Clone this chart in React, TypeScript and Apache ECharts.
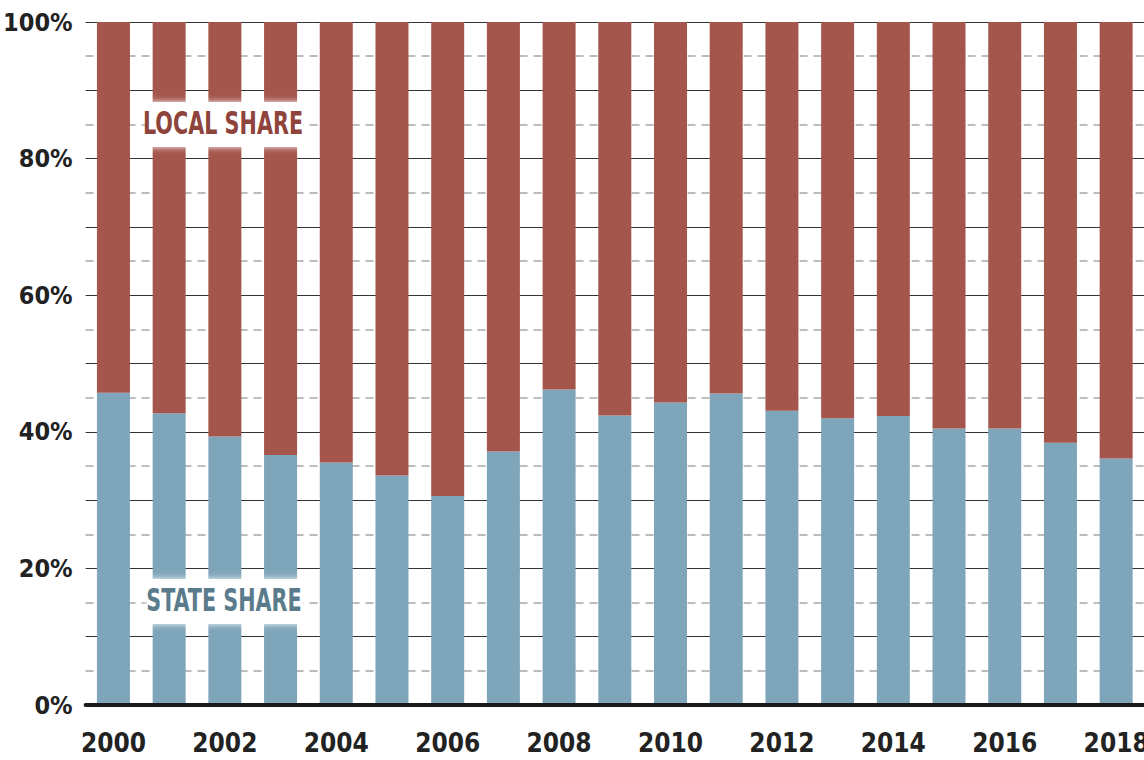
import React, { useEffect, useRef } from "react";
import * as echarts from "echarts";

const years = ["2000","2001","2002","2003","2004","2005","2006","2007","2008","2009","2010","2011","2012","2013","2014","2015","2016","2017","2018"];
const stateShare = [45.7, 42.7, 39.3, 36.6, 35.5, 33.6, 30.6, 37.1, 46.2, 42.4, 44.3, 45.6, 43.1, 42.0, 42.3, 40.5, 40.5, 38.4, 36.1];
const localShare = stateShare.map((v) => +(100 - v).toFixed(1));
const yTicks = [0, 20, 40, 60, 80, 100];

const FONT = "'DejaVu Sans Condensed', sans-serif";

export default function App() {
  const ref = useRef<HTMLDivElement>(null);
  useEffect(() => {
    document.body.style.margin = "0";
    const chart = echarts.init(ref.current!, null, { renderer: "svg" });
    chart.setOption({
      animation: false,
      backgroundColor: "#ffffff",
      grid: { left: 85.6, right: 0, top: 22, bottom: 55, containLabel: false, outerBoundsMode: "none" },
      xAxis: {
        type: "category",
        data: years,
        axisTick: { show: false },
        axisLine: { show: true, lineStyle: { color: "#1a1a1a", width: 4 } },
        axisLabel: {
          interval: 1,
          margin: 25,
          fontFamily: FONT,
          fontWeight: "bold",
          fontSize: 26,
          color: "#222222",
        },
        z: 5,
      },
      yAxis: {
        type: "value",
        min: 0,
        max: 100,
        interval: 10,
        axisLine: { show: false },
        axisTick: { show: false },
        axisLabel: {
          margin: 13,
          fontFamily: FONT,
          fontWeight: "bold",
          fontSize: 25,
          color: "#222222",
          formatter: (v: number) => (yTicks.indexOf(v) >= 0 ? v + "%" : ""),
        },
        splitLine: { show: true, lineStyle: { color: "#333333", width: 1.2, type: "solid" } },
        minorTick: { show: false, splitNumber: 2 },
        minorSplitLine: { show: true, lineStyle: { color: "#a8a8a8", width: 1.5, type: [8, 6] } },
      },
      series: [
        {
          name: "State share",
          type: "bar",
          stack: "total",
          barWidth: 33,
          data: stateShare,
          itemStyle: { color: "#7fa5ba" },
          z: 3,
        },
        {
          name: "Local share",
          type: "bar",
          stack: "total",
          barWidth: 33,
          data: localShare,
          itemStyle: { color: "#a5564c" },
          z: 3,
        },
      ],
      graphic: [
        {
          type: "rect",
          shape: { x: 147, y: 102, width: 156, height: 45 },
          style: { fill: "#ffffff", shadowBlur: 6, shadowColor: "#ffffff" },
          z: 100,
        },
        {
          type: "text",
          x: 223,
          y: 123,
          scaleX: 0.72,
          style: {
            text: "LOCAL SHARE",
            fontFamily: FONT,
            fontWeight: "bold",
            fontSize: 32,
            fill: "#8e433b",
            align: "center",
            verticalAlign: "middle",
          },
          z: 101,
        },
        {
          type: "rect",
          shape: { x: 147, y: 579, width: 156, height: 45 },
          style: { fill: "#ffffff", shadowBlur: 6, shadowColor: "#ffffff" },
          z: 100,
        },
        {
          type: "text",
          x: 224,
          y: 600,
          scaleX: 0.72,
          style: {
            text: "STATE SHARE",
            fontFamily: FONT,
            fontWeight: "bold",
            fontSize: 32,
            fill: "#5a7b8b",
            align: "center",
            verticalAlign: "middle",
          },
          z: 101,
        },
      ],
    });
    return () => chart.dispose();
  }, []);
  return <div ref={ref} style={{ width: 1144, height: 760 }} />;
}
